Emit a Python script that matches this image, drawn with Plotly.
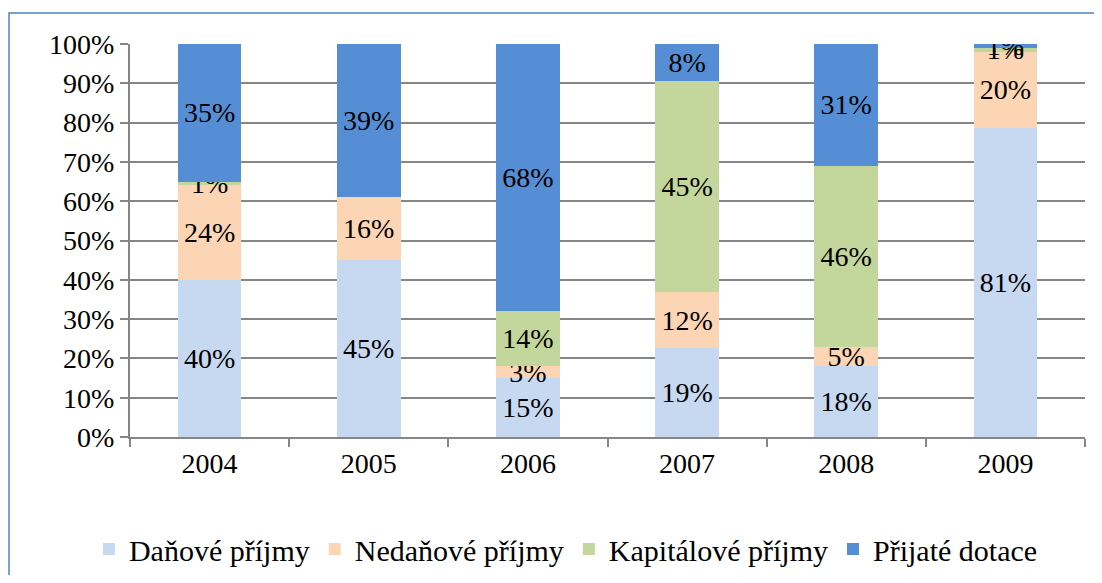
import plotly.graph_objects as go

years = ["2004", "2005", "2006", "2007", "2008", "2009"]
danove = [40, 45, 15, 19, 18, 81]
nedanove = [24, 16, 3, 12, 5, 20]
kapitalove = [1, 0, 14, 45, 46, 1]
dotace = [35, 39, 68, 8, 31, 1]

series = [
    ("Daňové příjmy", danove, "#C6D9F1"),
    ("Nedaňové příjmy", nedanove, "#FCD5B5"),
    ("Kapitálové příjmy", kapitalove, "#C3D69B"),
    ("Přijaté dotace", dotace, "#558ED5"),
]

font_family = "Liberation Serif"
FS = 28

fig = go.Figure()
for name, vals, color in series:
    fig.add_trace(go.Bar(
        x=years, y=vals, name=name,
        marker=dict(color=color, line=dict(width=0)),
        text=[f"{v}%" for v in vals],
        textposition="inside",
        insidetextanchor="middle",
        textangle=0,
        constraintext="none",
        textfont=dict(family=font_family, size=FS, color="black"),
        hoverinfo="skip",
    ))

fig.update_layout(
    barmode="stack",
    barnorm="percent",
    bargap=0.6,
    width=1086, height=567,
    margin=dict(l=122, r=9, t=36, b=138, autoexpand=False),
    paper_bgcolor="white",
    plot_bgcolor="white",
    font=dict(family=font_family, size=FS, color="black"),
    showlegend=True,
    legend=dict(
        orientation="h",
        x=0.4565, xanchor="center",
        yref="container",
        y=0.0459, yanchor="middle",
        font=dict(family=font_family, size=30, color="black"),
        itemwidth=30,
        traceorder="normal",
    ),
    xaxis=dict(
        showgrid=False,
        showline=True, linecolor="#868686", linewidth=2,
        ticks="outside", tickson="boundaries", ticklen=8,
        tickcolor="#868686", tickwidth=2,
        tickfont=dict(family=font_family, size=FS, color="black"),
        zeroline=False,
    ),
    yaxis=dict(
        range=[0, 100],
        tickvals=[0, 10, 20, 30, 40, 50, 60, 70, 80, 90, 100],
        ticktext=[f"{v}%" for v in [0, 10, 20, 30, 40, 50, 60, 70, 80, 90, 100]],
        showgrid=True, gridcolor="#868686", gridwidth=2,
        showline=True, linecolor="#868686", linewidth=2,
        ticks="outside", ticklen=8, tickcolor="#868686", tickwidth=2,
        tickfont=dict(family=font_family, size=FS, color="black"),
        zeroline=False,
    ),
    shapes=[
        dict(type="rect", xref="paper", yref="paper",
             x0=-0.1267, x1=1.06, y0=-0.45, y1=1.0789,
             line=dict(color="#4F81BD", width=1.5), fillcolor="rgba(0,0,0,0)",
             layer="below"),
    ],
)

fig.write_html("out.html")
